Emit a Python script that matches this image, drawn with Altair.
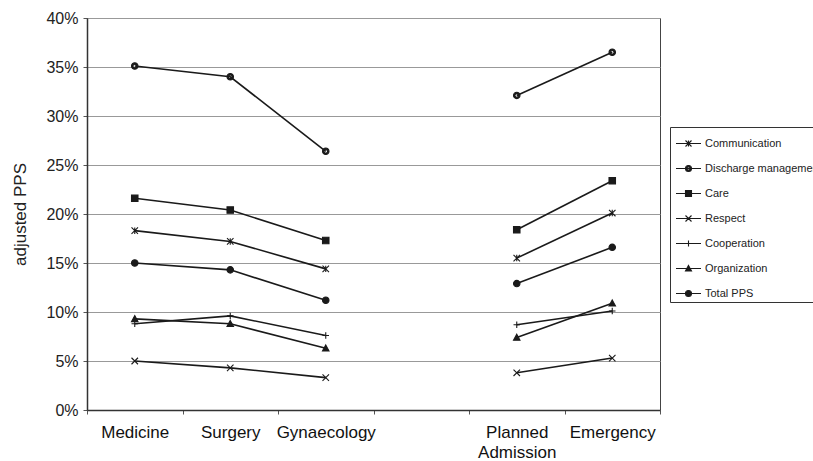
import altair as alt
import pandas as pd

# ---- data ----
categories = ["Medicine", "Surgery", "Gynaecology", "gap", "Planned Admission", "Emergency"]
point_categories = ["Medicine", "Surgery", "Gynaecology", "Planned Admission", "Emergency"]
point_groups = ["ward", "ward", "ward", "admission", "admission"]
series_names = ["Communication", " Discharge management", "Care", "Respect",
                "Cooperation", "Organization", "Total PPS"]
communication = [0.183, 0.172, 0.144, 0.155, 0.201]
discharge = [0.351, 0.340, 0.264, 0.321, 0.365]
care = [0.216, 0.204, 0.173, 0.184, 0.234]
respect = [0.050, 0.043, 0.033, 0.038, 0.053]
cooperation = [0.088, 0.096, 0.076, 0.087, 0.101]
organization = [0.093, 0.088, 0.063, 0.074, 0.109]
total_pps = [0.150, 0.143, 0.112, 0.129, 0.166]
y_ticks = [0, 0.05, 0.10, 0.15, 0.20, 0.25, 0.30, 0.35, 0.40]

series_values = [communication, discharge, care, respect, cooperation, organization, total_pps]
rows = []
for name, vals in zip(series_names, series_values):
    for c, g, v in zip(point_categories, point_groups, vals):
        rows.append({"category": c, "group": g, "series": name, "value": v})
df = pd.DataFrame(rows)


# ---- marker shapes (custom SVG paths in unit space) ----
def circle(r, sweep=1):
    return f"M{r},0A{r},{r},0,1,{sweep},{-r},0A{r},{r},0,1,{sweep},{r},0Z"


def marker(kind, a):
    if kind == "star":
        return f"M{-a},{-a}L{a},{a}M{-a},{a}L{a},{-a}M0,{-a}V{a}"
    if kind == "ring":
        return circle(a, 1) + circle(round(a * 0.55, 4), 0)
    if kind == "square":
        return f"M{-a},{-a}H{a}V{a}H{-a}Z"
    if kind == "x":
        return f"M{-a},{-a}L{a},{a}M{-a},{a}L{a},{-a}"
    if kind == "plus":
        return f"M{-a},0H{a}M0,{-a}V{a}"
    if kind == "triangle":
        return f"M0,{-a}L{a},{round(a * 0.85, 4)}L{-a},{round(a * 0.85, 4)}Z"
    if kind == "dot":
        return circle(a, 1)


kinds = ["star", "ring", "square", "x", "plus", "triangle", "dot"]
chart_paths = [marker(k, 1) for k in kinds]
legend_paths = ["M-1,0H1" + marker(k, 0.24) for k in kinds]

FONT = "Liberation Sans"
INK = "#1a1a1a"

label_expr = ("datum.value == 'gap' ? '' : "
              "datum.value == 'Planned Admission' ? ['Planned', 'Admission'] : datum.label")

x_enc = alt.X(
    "category:N",
    sort=categories,
    bandPosition=0.5,
    scale=alt.Scale(type="band", domain=categories, paddingInner=0, paddingOuter=0),
    axis=alt.Axis(
        title=None, labelAngle=0, labelExpr=label_expr, tickBand="extent",
        labelFont=FONT, labelFontSize=17, labelColor="#111", labelPadding=10,
        labelLineHeight=20, labelBaseline="top",
        domainColor="#333", domainWidth=1.5, tickColor="#555", tickSize=4,
        grid=False,
    ),
)
y_enc = alt.Y(
    "value:Q",
    scale=alt.Scale(domain=[0, 0.4], nice=False, zero=True),
    axis=alt.Axis(
        title="adjusted PPS", values=y_ticks, format=".0%",
        labelFont=FONT, labelFontSize=16, labelColor="#222", labelPadding=5,
        titleFont=FONT, titleFontSize=17, titleFontWeight="normal", titleColor="#222",
        titlePadding=16,
        domainColor="#333", domainWidth=1.5, tickColor="#555", tickSize=4,
        grid=True, gridColor="#999", gridWidth=1,
    ),
)

base = alt.Chart(df)

lines = base.mark_line(color=INK, strokeWidth=1.6).encode(
    x=x_enc, y=y_enc, detail=["series:N", "group:N"]
)

points = base.mark_point(fill=INK, stroke=INK, strokeWidth=1.1, opacity=1, size=42).encode(
    x=x_enc, y=y_enc,
    shape=alt.Shape("series:N", scale=alt.Scale(domain=series_names, range=chart_paths), legend=None),
)

legend_layer = base.transform_filter("false").mark_point(
    fill=INK, stroke=INK, strokeWidth=1.1, opacity=1, size=625
).encode(
    x=x_enc, y=y_enc,
    shape=alt.Shape(
        "series:N",
        scale=alt.Scale(domain=series_names, range=legend_paths),
        legend=alt.Legend(
            title=None, orient="none", legendX=583, legendY=109,
            padding=3, symbolOffset=2, labelOffset=3, rowPadding=6,
            labelFont=FONT, labelFontSize=11, labelColor="#222",
            strokeColor="#333", fillColor="white",
            symbolSize=625, symbolStrokeWidth=1.1, labelLimit=300,
        ),
    ),
)

chart = alt.layer(lines, points, legend_layer).resolve_scale(shape="independent").properties(
    width=573, height=392,
    padding={"left": 87, "top": 18, "right": 153, "bottom": 51},
    autosize=alt.AutoSizeParams(type="none"),
    background="white",
).configure_view(stroke="#444", strokeWidth=1)

chart.save("out.html", embed_options={"renderer": "svg", "actions": False})
